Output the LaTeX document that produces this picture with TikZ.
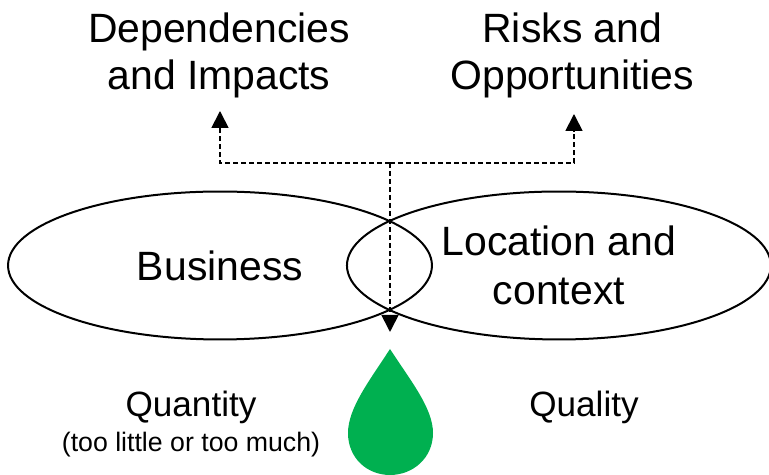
\documentclass[tikz,border=0pt]{standalone}
\usepackage{fontspec}
\setmainfont{Liberation Sans}
\usepackage{xcolor}
\usetikzlibrary{shapes.geometric, arrows.meta, positioning}
\definecolor{dropgreen}{HTML}{00B050}
\tikzstyle{venn} = [ellipse, minimum width=8.48cm, minimum height=2.96cm, 
align=center, draw=black, line width=0.04cm, inner sep=0pt, 
font=\fontsize{23.3}{27.8}\selectfont]
\tikzstyle{title} = [align=center, inner sep=0pt, 
font=\fontsize{23.3}{26.8}\selectfont]
\tikzstyle{aspect} = [align=center, inner sep=0pt, 
font=\fontsize{20}{23}\selectfont]
\tikzstyle{arrow} = [line width=0.035cm, dash pattern=on 0.1cm off 0.06cm, 
-{Triangle[length=0.34cm, width=0.34cm]}]

\begin{document}
\begin{tikzpicture}[x=0.02cm, y=0.02cm]
\useasboundingbox (0,0) rectangle (769,-475);

%-------ellipses-------------------
\node (business) [venn] at (220,-265.5) {Business};
\node (location) [venn, xshift=6.78cm] at (220,-265.5) {Location and \\ context};

%-------titles-------------------
\node (dep) [title] at (219,-55.5) {Dependencies \\ and Impacts};
\node (risks) [title, right=2.0cm of dep] {Risks and \\ Opportunities};

%-------water-------------------
\node (quantity) [aspect] at (191,-407) {Quantity};
\node (range) [below=0.17cm of quantity, inner sep=0pt, 
font=\fontsize{15.2}{18}\selectfont] {(too little or too much)};
\node (quality) [aspect] at (584,-407) {Quality};

\fill [dropgreen] (390,-349) .. controls (370,-380) and (348,-408) .. (348,-433)
.. controls (348,-458) and (367,-475) .. (390,-475)
.. controls (413,-475) and (433,-458) .. (433,-433)
.. controls (433,-408) and (410,-380) .. (390,-349) -- cycle;

%-------arrows-------------------
\coordinate (split) at (390,-163);
\coordinate (depEnd) at (220,-111);
\coordinate (risksEnd) at (574,-114);
\coordinate (dropEnd) at (390,-332);

\draw [arrow] (split) -| (depEnd);
\draw [arrow] (split) -| (risksEnd);
\draw [arrow] (split) -- (dropEnd);

\end{tikzpicture}
\end{document}
